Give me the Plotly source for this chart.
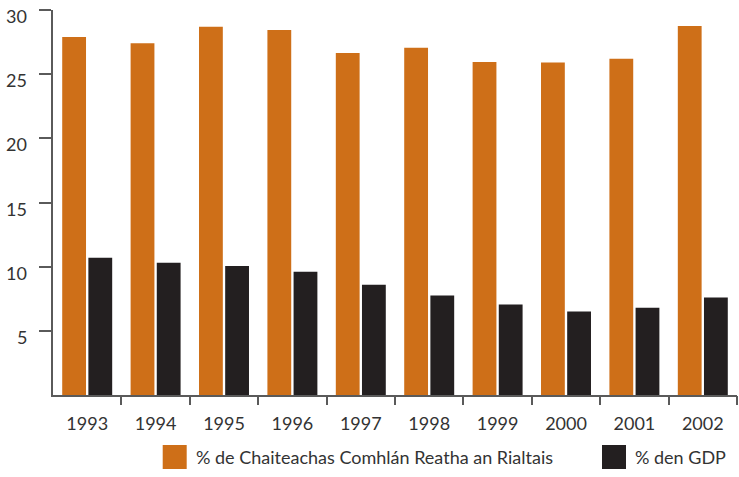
import plotly.graph_objects as go

years = ["1993", "1994", "1995", "1996", "1997", "1998", "1999", "2000", "2001", "2002"]
pct_spend = [27.9, 27.4, 28.7, 28.45, 26.65, 27.05, 25.95, 25.9, 26.2, 28.75]
pct_gdp = [10.7, 10.3, 10.05, 9.6, 8.6, 7.75, 7.05, 6.5, 6.8, 7.6]
series_names = ["% de Chaiteachas Comhlán Reatha an Rialtais", "% den GDP"]
y_ticks = [5, 10, 15, 20, 25, 30]

ORANGE = "#CE6F18"
BLACK = "#231F20"
TEXT = "#333333"
AXIS = "#5a5a5a"
FONT = "Lato"
FS = 18

fig = go.Figure()
fig.add_trace(go.Bar(x=years, y=pct_spend, name=series_names[0], marker_color=ORANGE, marker_line_width=0))
fig.add_trace(go.Bar(x=years, y=pct_gdp, name=series_names[1], marker_color=BLACK, marker_line_width=0))

fig.update_layout(
    width=739, height=477,
    margin=dict(l=53, r=2, t=10, b=82),
    plot_bgcolor="white", paper_bgcolor="white",
    barmode="group", bargap=0.235, bargroupgap=0.09,
    showlegend=False,
    font=dict(family=FONT, size=FS, color=TEXT),
)
fig.update_xaxes(
    type="category", ticks="", showline=True, linecolor=AXIS, linewidth=1.5, showgrid=False,
    tickfont=dict(family=FONT, size=FS, color=TEXT), ticklabelstandoff=12,
)
# separator ticks between categories (not at the left edge)
n = len(years)
fig.update_layout(xaxis2=dict(
    overlaying="x", anchor="y", side="bottom", range=[-0.5, n - 0.5],
    tickvals=[i + 0.5 for i in range(n)], showticklabels=False,
    ticks="outside", ticklen=9, tickwidth=1.5, tickcolor=AXIS,
    showline=False, showgrid=False, zeroline=False,
))
fig.add_trace(go.Scatter(x=[], y=[], xaxis="x2", showlegend=False, hoverinfo="skip"))
fig.update_yaxes(
    range=[0, 30], tickvals=y_ticks, ticks="outside", ticklen=12, tickwidth=1.5,
    tickcolor=AXIS, showline=True, linecolor=AXIS, linewidth=1.5, showgrid=False,
    showticklabels=False, zeroline=False,
)
for v in y_ticks:
    fig.add_annotation(x=0, xref="paper", y=v, yref="y", text=str(v), showarrow=False,
                       xanchor="right", yanchor="middle", xshift=-24, yshift=-6,
                       font=dict(family=FONT, size=FS, color=TEXT))

# custom legend with large squares
legend_items = [(series_names[0], ORANGE, 162.7), (series_names[1], BLACK, 602)]
for name, color, px in legend_items:
    x0 = (px - 53) / (739 - 55)
    x1 = (px + 24 - 53) / (739 - 55)
    fig.add_shape(type="rect", xref="paper", yref="paper", x0=x0, x1=x1,
                  y0=(395 - 469) / 385, y1=(395 - 445) / 385,
                  fillcolor=color, line_width=0)
    fig.add_annotation(xref="paper", yref="paper", x=x1, y=(395 - 457) / 385, text=name,
                       showarrow=False, xanchor="left", yanchor="middle", xshift=7,
                       font=dict(family=FONT, size=FS, color=TEXT))

fig.write_html("out.html", config={"displayModeBar": False},
               post_script="document.body.style.margin='0px';")
